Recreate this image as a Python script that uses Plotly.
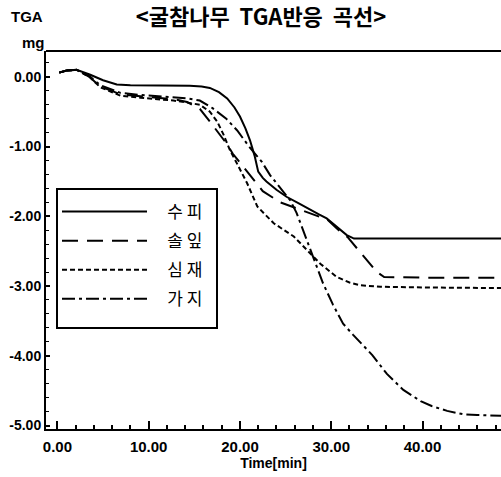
import plotly.graph_objects as go

# ---- data (time in min, weight change in mg) ----
bark_t = [0.2, 1.0, 2.1, 3.6, 5.0, 6.5, 8.0, 10.0, 12.0, 14.5, 15.8, 16.7, 17.7, 18.6, 19.4, 20.0, 20.6,
          21.1, 21.6, 22.0, 22.5, 22.9, 24.0, 25.1, 26.5, 27.7, 28.6, 29.5, 30.5, 31.7, 32.5, 35.0, 40.0, 45.0, 48.6]
bark_v = [0.06, 0.09, 0.10, 0.03, -0.05, -0.11, -0.12, -0.12, -0.12, -0.13, -0.14, -0.16, -0.22, -0.31, -0.44,
          -0.57, -0.74, -0.91, -1.13, -1.36, -1.45, -1.50, -1.62, -1.72, -1.82, -1.91, -1.97, -2.03, -2.14, -2.27,
          -2.32, -2.32, -2.32, -2.32, -2.32]

needle_t = [0.2, 1.0, 2.1, 3.5, 4.7, 6.9, 9.1, 12.7, 14.2, 15.6, 16.7, 17.8, 18.6, 19.2, 20.4, 21.3, 22.5,
            24.4, 26.6, 29.6, 31.0, 31.8, 33.4, 35.0, 35.8, 40.0, 48.6]
needle_v = [0.06, 0.09, 0.10, 0.0, -0.14, -0.25, -0.28, -0.32, -0.36, -0.46, -0.64, -0.84, -0.97, -1.10,
            -1.30, -1.45, -1.64, -1.80, -1.91, -2.05, -2.22, -2.30, -2.55, -2.80, -2.87, -2.88, -2.88]

heart_t = [0.2, 1.0, 2.1, 3.5, 4.7, 6.9, 9.1, 12.7, 14.2, 15.6, 16.7, 17.5, 18.2, 18.9, 19.9, 20.8, 21.9,
           23.7, 25.9, 27.3, 28.8, 30.6, 32.0, 33.2, 35.4, 40.0, 48.6]
heart_v = [0.06, 0.09, 0.10, 0.0, -0.15, -0.27, -0.30, -0.34, -0.37, -0.40, -0.50, -0.64, -0.83, -1.05,
           -1.30, -1.53, -1.86, -2.10, -2.29, -2.48, -2.68, -2.87, -2.95, -2.99, -3.01, -3.02, -3.03]

branch_t = [0.2, 1.0, 2.1, 3.5, 4.7, 6.9, 9.1, 12.7, 14.2, 15.6, 17.0, 18.5, 19.7, 21.0, 22.4, 23.3, 24.5,
            25.5, 26.2, 26.9, 28.0, 29.1, 30.2, 31.3, 32.4, 33.4, 34.5, 36.1, 37.9, 39.8, 41.0, 42.7, 44.5,
            46.0, 48.6]
branch_v = [0.06, 0.09, 0.10, 0.01, -0.12, -0.23, -0.26, -0.29, -0.31, -0.34, -0.45, -0.60, -0.77, -1.00,
            -1.22, -1.41, -1.60, -1.77, -1.95, -2.20, -2.57, -2.96, -3.27, -3.54, -3.70, -3.84, -3.99, -4.26,
            -4.49, -4.65, -4.72, -4.79, -4.84, -4.85, -4.86]

series_names = ["수 피", "솔 잎", "심 재", "가 지"]
x_tick_vals = [0, 10, 20, 30, 40]
x_tick_text = ["0.00", "10.00", "20.00", "30.00", "40.00"]
y_tick_vals = [0, -1, -2, -3, -4, -5]
y_tick_text = ["0.00", "-1.00", "-2.00", "-3.00", "-4.00", "-5.00"]

NB = "\u00a0"
styles = [
    dict(dash="solid", width=2),
    dict(dash="16px,9px", width=2),
    dict(dash="5px,3px", width=2),
    dict(dash="13px,4px,3px,4px", width=2),
]
data = [(bark_t, bark_v), (needle_t, needle_v), (heart_t, heart_v), (branch_t, branch_v)]

fig = go.Figure()
for i, ((t, v), name, st) in enumerate(zip(data, series_names, styles)):
    fig.add_trace(go.Scatter(
        x=t, y=v, mode="lines", name=NB * 4 + name,
        line=dict(color="black", width=st["width"], dash=st["dash"]),
        legendgroup=f"g{i}",
    ))

xtick_font = dict(family="Liberation Sans, Arial", size=15, color="black", weight="bold")
ytick_font = dict(family="Liberation Sans, Arial", size=14, color="black", weight="bold")
lab_font = dict(family="Liberation Sans, Arial", size=14, color="black", weight="bold")


def px_y(py):
    return 1 - (py - 51) / 378


def px_x(px):
    return (px - 46) / 455


fig.update_layout(
    width=501, height=477,
    margin=dict(l=46, r=0, t=51, b=48),
    paper_bgcolor="white", plot_bgcolor="white",
    showlegend=True,
    legend=dict(
        x=px_x(57), y=px_y(194), xanchor="left", yanchor="top",
        borderwidth=0, bgcolor="rgba(0,0,0,0)",
        font=dict(family="Noto Sans CJK KR", size=17, color="black"),
        itemwidth=85, tracegroupgap=4,
    ),
    title=dict(
        text="<굴참나무  TGA반응  곡선>",
        x=261 / 501, xanchor="center", y=1 - 17 / 477, yanchor="middle", xref="container", yref="container",
        font=dict(family="Noto Sans CJK KR", size=22, color="black", weight="bold"),
    ),
    xaxis=dict(
        range=[-1.25, 48.6], showgrid=False, zeroline=False,
        showline=True, linecolor="black", linewidth=2,
        ticks="inside", ticklen=8, tickwidth=2, tickcolor="black",
        tickvals=x_tick_vals, ticktext=x_tick_text, tickfont=xtick_font, ticklabelstandoff=3,
        minor=dict(ticks="inside", dtick=2, tick0=0, ticklen=4, tickwidth=2, tickcolor="black", showgrid=False),
        title=dict(text="Time[min]", font=lab_font, standoff=4),
    ),
    yaxis=dict(
        range=[-5.05, 0.37], showgrid=False, zeroline=False,
        showline=True, linecolor="black", linewidth=2,
        ticks="inside", ticklen=4, tickwidth=2, tickcolor="black",
        tickvals=y_tick_vals, ticktext=y_tick_text, tickfont=ytick_font,
        minor=dict(ticks="inside", dtick=0.2, tick0=0, ticklen=3, tickwidth=1, tickcolor="black", showgrid=False),
    ),
    shapes=[
        dict(type="line", xref="paper", yref="paper", x0=0, x1=1, y0=1, y1=1,
             line=dict(color="black", width=2)),
        dict(type="rect", xref="paper", yref="paper", x0=px_x(57), x1=px_x(217), y0=px_y(328), y1=px_y(189),
             line=dict(color="black", width=2), fillcolor="white", layer="above"),
    ],
    annotations=[
        dict(text="TGA", xref="paper", yref="paper", x=px_x(27), y=px_y(17), xanchor="center",
             yanchor="middle", showarrow=False, font=dict(lab_font, size=15)),
        dict(text="mg", xref="paper", yref="paper", x=px_x(33), y=px_y(42), xanchor="center",
             yanchor="middle", showarrow=False, font=dict(lab_font, size=15)),
    ],
)

fig.write_html("out.html", post_script="document.body.style.margin='0px';",
               config={"displayModeBar": False})
